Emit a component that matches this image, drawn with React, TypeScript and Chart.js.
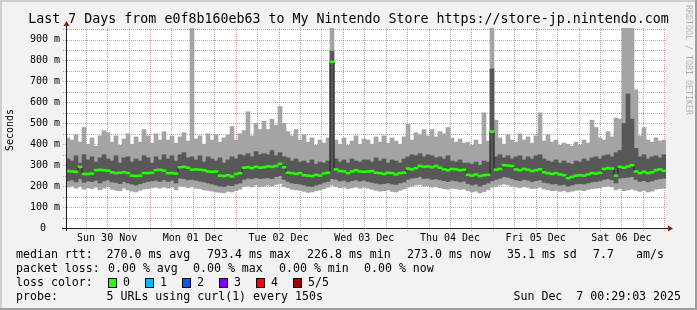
import { useEffect, useRef } from 'react';
import { Chart, registerables } from 'chart.js';
Chart.register(...registerables);

// time axis: hours since Sun 30 Nov 00:00
const START_H = 0.48;
const END_H = 168.48;
const Y_MAX = 955;

const dayLabels = ['Sun 30 Nov', 'Mon 01 Dec', 'Tue 02 Dec', 'Wed 03 Dec', 'Thu 04 Dec', 'Fri 05 Dec', 'Sat 06 Dec'];
const yLabelValues = [0, 100, 200, 300, 400, 500, 600, 700, 800, 900];

// smoke: per-column min, 2nd, median, 4th, max of 5 probes (ms)
const minV = [
  195, 200, 190, 198, 185, 192, 188, 195, 182, 190, 196, 185, 180, 178, 190, 182, 176, 172, 180, 186, 188, 192, 195, 190, 196,
  190, 195, 182, 200, 198, 192, 196, 190, 188, 182, 180, 176, 172, 170, 168, 175, 172, 178, 185, 198, 202, 196, 205, 198, 200,
  205, 200, 208, 212, 198, 192, 185, 182, 180, 175, 170, 172, 178, 182, 188, 195, 205, 198, 192, 195, 188, 192, 196, 190, 195,
  190, 185, 180, 176, 178, 182, 175, 172, 180, 186, 195, 200, 205, 208, 200, 202, 195, 198, 192, 188, 185, 190, 188, 184, 186,
  178, 172, 176, 168, 174, 182, 195, 198, 205, 210, 206, 200, 196, 192, 198, 194, 188, 190, 195, 186, 182, 178, 180, 175, 178,
  172, 176, 180, 182, 178, 184, 188, 190, 192, 198, 200, 196, 182, 188, 178, 182, 186, 180, 175, 180, 172, 176, 185, 188, 190,
];
const lowV = [
  225, 230, 220, 235, 218, 225, 222, 228, 215, 225, 230, 220, 218, 212, 222, 215, 210, 205, 212, 218, 222, 225, 228, 222, 230,
  222, 228, 215, 238, 235, 230, 232, 228, 224, 220, 215, 210, 205, 200, 198, 204, 202, 210, 215, 232, 238, 235, 240, 236, 238,
  240, 236, 245, 250, 232, 222, 215, 212, 210, 205, 200, 198, 205, 210, 218, 222, 235, 232, 225, 228, 220, 226, 230, 224, 228,
  222, 218, 214, 210, 212, 216, 210, 208, 215, 220, 232, 238, 240, 245, 236, 238, 232, 235, 230, 226, 222, 228, 225, 220, 224,
  212, 205, 210, 200, 208, 215, 225, 232, 238, 245, 242, 236, 230, 226, 232, 228, 222, 226, 230, 218, 215, 210, 212, 205, 208,
  200, 205, 210, 212, 210, 215, 220, 222, 225, 232, 236, 230, 215, 238, 240, 242, 245, 232, 222, 226, 220, 225, 232, 235, 238,
];
const medV = [
  272, 270, 268, 292, 258, 258, 260, 276, 278, 276, 274, 266, 262, 264, 266, 262, 250, 248, 250, 262, 262, 264, 276, 278, 274,
  262, 262, 260, 290, 292, 288, 278, 280, 278, 276, 270, 268, 270, 250, 248, 252, 246, 258, 262, 288, 290, 286, 292, 288, 290,
  294, 292, 296, 306, 290, 264, 262, 258, 262, 252, 250, 248, 254, 250, 260, 264, 793, 280, 272, 270, 262, 270, 276, 270, 268,
  270, 272, 264, 262, 258, 264, 262, 256, 262, 264, 284, 280, 286, 296, 292, 294, 290, 296, 288, 280, 276, 282, 280, 276, 278,
  254, 250, 256, 248, 252, 254, 460, 278, 282, 300, 298, 296, 280, 276, 282, 278, 272, 276, 280, 266, 262, 258, 262, 256, 252,
  238, 244, 250, 252, 250, 256, 262, 260, 264, 282, 286, 284, 250, 292, 288, 294, 300, 270, 262, 268, 262, 266, 276, 280, 273,
];
const highV = [
  330, 320, 345, 310, 350, 325, 340, 315, 335, 350, 330, 320, 345, 310, 335, 340, 315, 330, 320, 345, 335, 310, 340, 325, 350,
  330, 345, 320, 350, 360, 335, 340, 325, 345, 315, 340, 330, 320, 335, 310, 325, 340, 330, 350, 345, 355, 340, 365, 350, 355,
  350, 370, 345, 360, 340, 335, 320, 330, 315, 320, 310, 325, 305, 315, 310, 320, 845, 330, 315, 325, 310, 330, 320, 315, 325,
  325, 315, 335, 320, 330, 310, 325, 320, 310, 330, 340, 350, 345, 355, 340, 350, 345, 335, 340, 330, 345, 320, 315, 325, 310,
  310, 305, 315, 300, 320, 315, 760, 340, 350, 335, 345, 330, 340, 345, 325, 340, 330, 345, 350, 330, 320, 315, 325, 310, 320,
  310, 305, 320, 315, 330, 320, 335, 340, 330, 345, 350, 340, 360, 370, 500, 640, 520, 380, 340, 350, 330, 340, 345, 335, 350,
];
const maxV = [
  430, 420, 445, 410, 480, 400, 430, 390, 440, 465, 455, 410, 440, 395, 425, 450, 400, 435, 410, 470, 440, 405, 450, 420, 460,
  420, 440, 405, 435, 455, 415, 960, 425, 440, 400, 450, 420, 445, 410, 430, 445, 485, 420, 450, 465, 555, 440, 500, 470, 510,
  470, 520, 490, 580, 500, 460, 440, 470, 420, 445, 410, 430, 395, 420, 405, 430, 960, 420, 400, 430, 395, 415, 440, 400, 425,
  420, 400, 435, 410, 440, 405, 430, 415, 400, 435, 495, 420, 455, 445, 470, 440, 470, 435, 460, 450, 480, 430, 410, 425, 405,
  410, 395, 420, 400, 550, 415, 960, 515, 430, 400, 445, 420, 410, 450, 420, 435, 405, 440, 550, 415, 445, 410, 420, 395, 405,
  400, 390, 410, 395, 420, 405, 515, 480, 430, 420, 460, 435, 525, 520, 960, 960, 960, 660, 440, 480, 420, 410, 430, 415, 420,
];

const legendRtt: [number, string][] = [
  [16, 'median rtt:'], [106.5, '270.0 ms avg'], [207, '793.4 ms max'], [307, '226.8 ms min'],
  [407, '273.0 ms now'], [507, '35.1 ms sd'], [593, '7.7'], [636, 'am/s'],
];
const legendLoss: [number, string][] = [
  [16, 'packet loss:'], [108, '0.00 % avg'], [193, '0.00 % max'], [279, '0.00 % min'], [364, '0.00 % now'],
];
const lossColors: [string, string][] = [
  ['0', '#26ff00'], ['1', '#00b8ff'], ['2', '#0059ff'], ['3', '#7e00ff'], ['4', '#ff0000'], ['5/5', '#a10000'],
];
const lossSwatchX = [108, 145, 182, 219, 256, 293];

const TITLE = 'Last 7 Days from e0f8b160eb63 to My Nintendo Store https://store-jp.nintendo.com';
const PROBE = '5 URLs using curl(1) every 150s';
const STAMP = 'Sun Dec  7 00:29:03 2025';

const MONO = '"DejaVu Sans Mono", monospace';
const GRID = 'rgba(143,143,143,0.75)';
const MGRID = 'rgba(222,79,79,0.6)';

export default function App() {
  const ref = useRef<HTMLCanvasElement>(null);
  useEffect(() => {
    const canvas = ref.current;
    if (!canvas) return;
    const step = (END_H - START_H) / medV.length;
    const xs = medV.map((_, i) => START_H + (i + 0.5) * step);
    const hourTicks: number[] = [];
    for (let h = 6; h <= END_H; h += 6) hourTicks.push(h);
    const valTicks: number[] = [];
    for (let v = 50; v < Y_MAX; v += 50) valTicks.push(v);
    const halfW = 4.6;

    const bg = {
      id: 'bg',
      beforeDraw(chart: any) {
        const { ctx, chartArea: a, width, height } = chart;
        ctx.save();
        ctx.fillStyle = '#f2f2f2';
        ctx.fillRect(0, 0, width, height);
        ctx.fillStyle = '#cfcfcf';
        ctx.fillRect(0, 0, width, 2);
        ctx.fillRect(0, 0, 2, height);
        ctx.fillStyle = '#9e9e9e';
        ctx.fillRect(0, height - 2, width, 2);
        ctx.fillRect(width - 2, 0, 2, height);
        ctx.fillStyle = '#ffffff';
        ctx.fillRect(a.left, a.top, a.right - a.left, a.bottom - a.top);
        ctx.restore();
      },
      beforeDatasetsDraw(chart: any) {
        // dotted grid, under the data, placed through the scales
        const { ctx, chartArea: a, scales } = chart;
        ctx.save();
        ctx.lineWidth = 1;
        ctx.setLineDash([1, 1]);
        hourTicks.forEach((h) => {
          const px = Math.round(scales.x.getPixelForValue(h)) + 0.5;
          ctx.strokeStyle = h % 24 === 0 ? MGRID : GRID;
          ctx.beginPath();
          ctx.moveTo(px, a.bottom + 3);
          ctx.lineTo(px, a.top);
          ctx.stroke();
        });
        valTicks.forEach((v) => {
          const py = Math.round(scales.y.getPixelForValue(v)) + 0.5;
          ctx.strokeStyle = v % 100 === 0 ? MGRID : GRID;
          ctx.beginPath();
          ctx.moveTo(a.left - 3, py);
          ctx.lineTo(a.right, py);
          ctx.stroke();
        });
        ctx.restore();
      },
    };

    const deco = {
      id: 'deco',
      afterDraw(chart: any) {
        const { ctx, chartArea: a, scales } = chart;
        const xS = scales.x;
        const yS = scales.y;
        ctx.save();
        // axes
        ctx.lineWidth = 1;
        ctx.strokeStyle = '#1f1f1f';
        ctx.beginPath();
        ctx.moveTo(a.left - 4, a.bottom + 0.5);
        ctx.lineTo(a.right + 3, a.bottom + 0.5);
        ctx.moveTo(a.left + 0.5, a.bottom + 3);
        ctx.lineTo(a.left + 0.5, a.top - 4);
        ctx.stroke();
        ctx.fillStyle = '#801f1f';
        ctx.beginPath();
        ctx.moveTo(a.right + 7, a.bottom + 0.5);
        ctx.lineTo(a.right + 2, a.bottom - 2.5);
        ctx.lineTo(a.right + 2, a.bottom + 3.5);
        ctx.closePath();
        ctx.fill();
        ctx.beginPath();
        ctx.moveTo(a.left + 0.5, a.top - 7);
        ctx.lineTo(a.left - 2.5, a.top - 2);
        ctx.lineTo(a.left + 3.5, a.top - 2);
        ctx.closePath();
        ctx.fill();

        ctx.fillStyle = '#000';
        ctx.textBaseline = 'middle';
        // y labels
        ctx.font = `10px ${MONO}`;
        ctx.textAlign = 'right';
        yLabelValues.forEach((v) => {
          const py = yS.getPixelForValue(v);
          if (v === 0) ctx.fillText('0', a.left - 20, py);
          else ctx.fillText(`${v} m`, a.left - 6, py);
        });
        // x labels
        ctx.textAlign = 'center';
        dayLabels.forEach((t, i) => {
          ctx.fillText(t, xS.getPixelForValue(12 + 24 * i), 238.5);
        });
        // title
        ctx.font = `13.3px ${MONO}`;
        ctx.fillText(TITLE, 348.5, 19.5);
        // vertical label
        ctx.save();
        ctx.font = `10px ${MONO}`;
        ctx.translate(10, 130);
        ctx.rotate(-Math.PI / 2);
        ctx.fillText('Seconds', 0, 0);
        ctx.restore();
        // watermark
        ctx.save();
        ctx.font = `8.3px ${MONO}`;
        ctx.fillStyle = 'rgba(0,0,0,0.28)';
        ctx.translate(688, 5);
        ctx.rotate(Math.PI / 2);
        ctx.textAlign = 'left';
        ctx.fillText('RRDTOOL / TOBI OETIKER', 0, 0);
        ctx.restore();
        // legend
        ctx.font = `11.6px ${MONO}`;
        ctx.textAlign = 'left';
        legendRtt.forEach(([x, t]) => ctx.fillText(t, x, 254.5));
        legendLoss.forEach(([x, t]) => ctx.fillText(t, x, 268.5));
        ctx.fillText('loss color:', 16, 282.5);
        lossColors.forEach(([t, c], i) => {
          const sx = lossSwatchX[i];
          ctx.fillStyle = c;
          ctx.fillRect(sx, 278, 8, 9);
          ctx.strokeStyle = '#000';
          ctx.strokeRect(sx + 0.5, 278.5, 8, 9);
          ctx.fillStyle = '#000';
          ctx.fillText(t, sx + 15, 282.5);
        });
        ctx.fillText('probe:', 16, 296.5);
        ctx.fillText(PROBE, 106.5, 296.5);
        ctx.textAlign = 'right';
        ctx.fillText(STAMP, 681, 296.5);
        ctx.restore();
      },
    };

    const barCommon = { grouped: false, barPercentage: 1, categoryPercentage: 1, borderWidth: 0 };
    const chart = new Chart(canvas, {
      type: 'bar',
      data: {
        datasets: [
          {
            ...barCommon,
            label: 'median',
            order: 1,
            backgroundColor: '#26ff00',
            data: xs.map((x, i) => ({ x, y: [medV[i] - halfW, medV[i] + halfW] })),
          } as any,
          {
            type: 'line',
            label: 'median line',
            order: 2,
            borderColor: '#202020',
            borderWidth: 1,
            pointRadius: 0,
            stepped: 'middle',
            data: xs.map((x, i) => ({ x, y: medV[i] })),
          } as any,
          {
            ...barCommon,
            label: 'inner smoke',
            order: 3,
            backgroundColor: '#585858',
            data: xs.map((x, i) => ({ x, y: [lowV[i], highV[i]] })),
          } as any,
          {
            ...barCommon,
            label: 'outer smoke',
            order: 4,
            backgroundColor: '#a4a4a4',
            data: xs.map((x, i) => ({ x, y: [minV[i], maxV[i]] })),
          } as any,
        ],
      },
      options: {
        animation: false,
        responsive: false,
        devicePixelRatio: 1,
        layout: { padding: { left: 66, top: 28, right: 31, bottom: 82 } },
        plugins: { legend: { display: false }, tooltip: { enabled: false }, title: { display: false } },
        scales: {
          x: {
            type: 'linear',
            min: START_H,
            max: END_H,
            offset: false,
            ticks: { display: false },
            border: { display: false },
            grid: { display: false, offset: false, drawTicks: false },
            afterBuildTicks: (s: any) => {
              s.ticks = hourTicks.map((value) => ({ value }));
            },
          },
          y: {
            type: 'linear',
            min: 0,
            max: Y_MAX,
            ticks: { display: false },
            border: { display: false },
            grid: { display: false, drawTicks: false },
            afterBuildTicks: (s: any) => {
              s.ticks = valTicks.map((value) => ({ value }));
            },
          },
        },
      } as any,
      plugins: [bg, deco],
    });
    return () => chart.destroy();
  }, []);
  return (
    <div style={{ position: 'absolute', left: 0, top: 0, width: 697, height: 310 }}>
      <canvas ref={ref} width={697} height={310} style={{ display: 'block', width: 697, height: 310 }} />
    </div>
  );
}
